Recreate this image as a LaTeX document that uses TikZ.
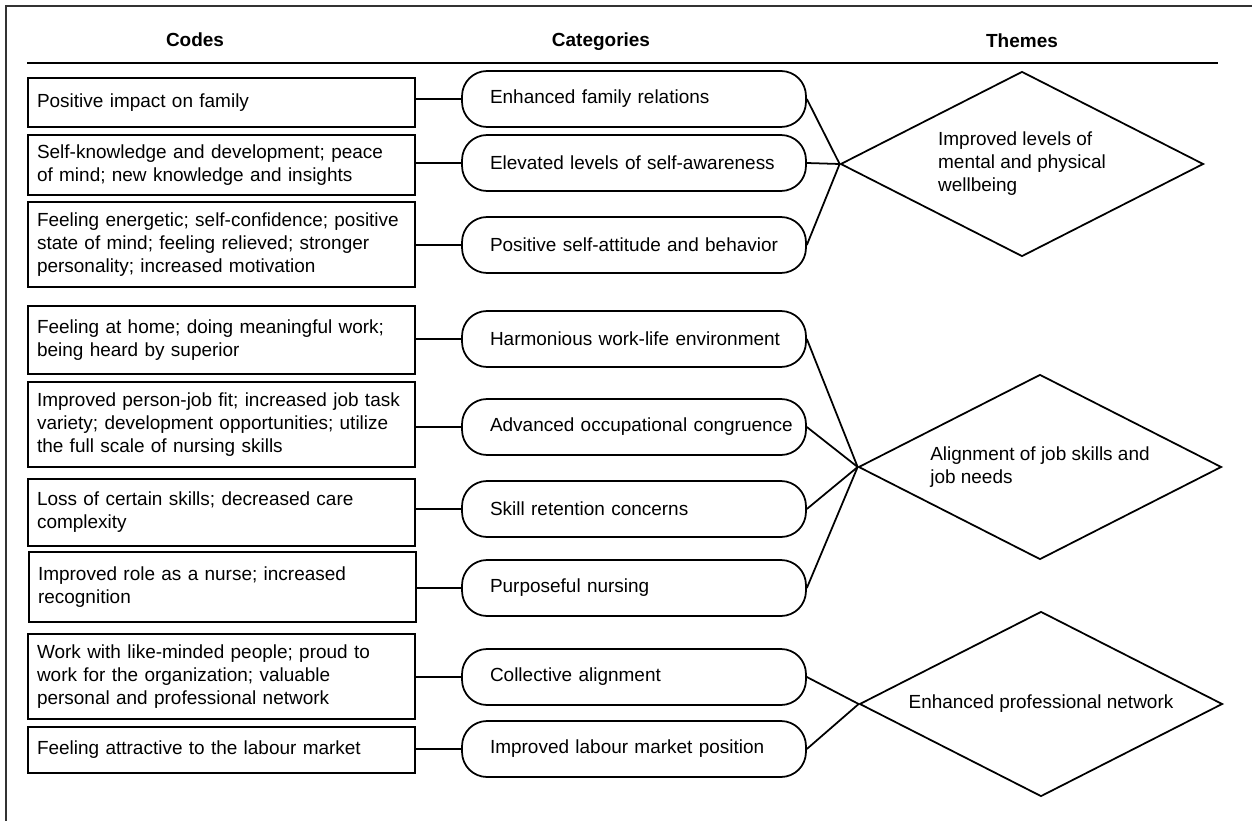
\documentclass[tikz,border=0pt]{standalone}
\usepackage{fontspec}
\setmainfont{Liberation Sans}
\usetikzlibrary{shapes.geometric}

\begin{document}
\begin{tikzpicture}[x=0.02cm,y=-0.02cm,line width=1pt,
  every node/.style={font=\fontsize{10.8}{13.1}\selectfont},
  head/.style={font=\fontsize{10.8}{13.1}\selectfont\bfseries,anchor=base},
  code/.style={draw,text width=7.38cm,inner xsep=0.18cm,inner ysep=0pt,align=left},
  cat/.style={draw,rounded corners=0.5cm,text width=6.4cm,inner xsep=0.24cm,inner ysep=0pt,align=left,minimum height=1.12cm,
    execute at begin node={\hspace*{0.32cm}}},
  theme/.style={draw,diamond,aspect=2,inner sep=0pt,minimum width=7.26cm,minimum height=3.7cm,align=left}]
\useasboundingbox (0,0) rectangle (1252,821);
\draw[line width=0.8pt,black!80] (6,821) -- (6,6) -- (1252,6);

\node[head] (hcodes) at (195,47) {Codes};
\node[head] (hcats) at (601,47) {Categories};
\node[head] (hthemes) at (1022,48) {Themes};
\draw[line width=1.2pt] (27,63) -- (1218,63);

\node[code,minimum height=0.98cm] (k1) at (221.5,102.5) {Positive impact on family};
\node[code,minimum height=1.2cm] (k2) at (221.5,165) {Self-knowledge and development; peace\\of mind; new knowledge and insights};
\node[code,minimum height=1.7cm] (k3) at (221.5,244.5) {Feeling energetic; self-confidence; positive\\state of mind; feeling relieved; stronger\\personality; increased motivation};
\node[code,minimum height=1.36cm] (k4) at (221.5,340) {Feeling at home; doing meaningful work;\\being heard by superior};
\node[code,minimum height=1.7cm] (k5) at (221.5,424.5) {Improved person-job fit; increased job task\\variety; development opportunities; utilize\\the full scale of nursing skills};
\node[code,minimum height=1.34cm] (k6) at (221.5,512.5) {Loss of certain skills; decreased care\\complexity};
\node[code,minimum height=1.4cm] (k7) at (222.5,587) {Improved role as a nurse; increased\\recognition};
\node[code,minimum height=1.7cm] (k8) at (221.5,676.5) {Work with like-minded people; proud to\\work for the organization; valuable\\personal and professional network};
\node[code,minimum height=0.92cm] (k9) at (221.5,750) {Feeling attractive to the labour market};

\node[cat] (c1) at (634,99) {Enhanced family relations};
\node[cat] (c2) at (634,163) {Elevated levels of self-awareness};
\node[cat] (c3) at (634,245) {Positive self-attitude and behavior};
\node[cat] (c4) at (634,339) {Harmonious work-life environment};
\node[cat] (c5) at (634,427) {Advanced occupational congruence};
\node[cat] (c6) at (634,509) {Skill retention concerns};
\node[cat] (c7) at (634,588) {Purposeful nursing};
\node[cat] (c8) at (634,677) {Collective alignment};
\node[cat] (c9) at (634,749) {Improved labour market position};

\node[theme] (t1) at (1022,164) {Improved levels of\\mental and physical\\wellbeing};
\node[theme] (t2) at (1040,467) {Alignment of job skills and\\job needs};
\node[theme] (t3) at (1041,704) {Enhanced professional network};

\draw (k1.east |- c1.west) -- (c1.west);
\draw (k2.east |- c2.west) -- (c2.west);
\draw (k3.east |- c3.west) -- (c3.west);
\draw (k4.east |- c4.west) -- (c4.west);
\draw (k5.east |- c5.west) -- (c5.west);
\draw (k6.east |- c6.west) -- (c6.west);
\draw (k7.east |- c7.west) -- (c7.west);
\draw (k8.east |- c8.west) -- (c8.west);
\draw (k9.east |- c9.west) -- (c9.west);

\draw (c1.east) -- (t1.west);
\draw (c2.east) -- (t1.west);
\draw (c3.east) -- (t1.west);
\draw (c4.east) -- (t2.west);
\draw (c5.east) -- (t2.west);
\draw (c6.east) -- (t2.west);
\draw (c7.east) -- (t2.west);
\draw (c8.east) -- (t3.west);
\draw (c9.east) -- (t3.west);
\end{tikzpicture}
\end{document}
